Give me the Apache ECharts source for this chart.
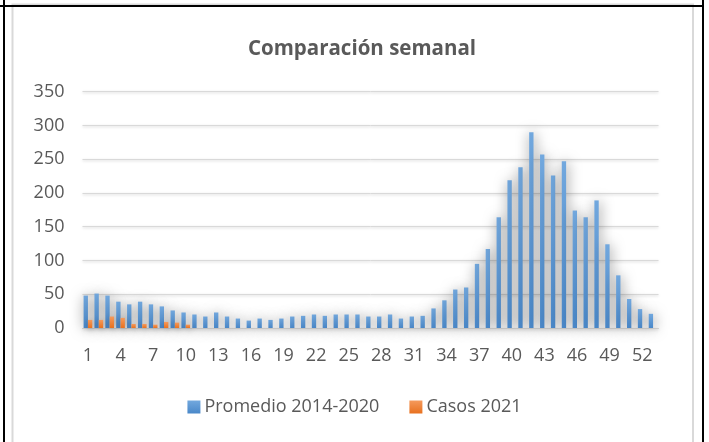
<!DOCTYPE html>
<html>
<head>
<meta charset="utf-8">
<script src="https://cdn.jsdelivr.net/npm/echarts@6/dist/echarts.min.js"></script>
<style>
  html, body { margin: 0; padding: 0; background: #fff; }
  #chart { width: 709px; height: 442px; }
</style>
</head>
<body>
<div id="chart"></div>
<script>
// semanas 1..53
var semanas = [];
for (var s = 1; s <= 53; s++) semanas.push(String(s));

var promedio = [48, 51, 48, 39, 35, 39, 35, 32, 26, 23,
                20, 17, 23, 17, 14, 11, 14, 12, 14, 17,
                18, 20, 18, 20, 20, 20, 17, 17, 20, 14,
                17, 18, 29, 41, 57, 60, 95, 117, 164, 219,
                238, 290, 257, 226, 247, 174, 164, 189, 124, 78,
                43, 28, 21];

var casos2021 = [12, 12, 17, 15, 6, 6, 5, 9, 8, 5];

var yTicks = { min: 0, max: 350, interval: 50 };

var txt = "#595959";
var font = "Open Sans";

var myChart = echarts.init(document.getElementById("chart"));
var option = {
  backgroundColor: "#fff",
  animation: false,
  title: {
    text: "Comparación semanal",
    left: 357,
    textAlign: "center",
    top: 34,
    textStyle: { fontFamily: font, fontSize: 20.5, fontWeight: "bold", color: txt }
  },
  legend: {
    bottom: 21,
    left: "center",
    itemWidth: 13,
    itemHeight: 13,
    itemGap: 30,
    icon: "rect",
    textStyle: { fontFamily: font, fontSize: 18, color: txt, padding: [0, 0, 0, -1] },
    data: ["Promedio 2014-2020", "Casos 2021"]
  },
  grid: {
    left: 82.5,
    right: 50.5,
    top: 91.7,
    bottom: 114
  },
  xAxis: {
    type: "category",
    data: semanas,
    axisTick: { show: false },
    axisLine: { lineStyle: { color: "#d9d9d9", width: 1 } },
    axisLabel: {
      interval: 2,
      margin: 19,
      fontFamily: font,
      fontSize: 18,
      color: txt
    }
  },
  yAxis: {
    type: "value",
    min: yTicks.min,
    max: yTicks.max,
    interval: yTicks.interval,
    axisLine: { show: false },
    axisTick: { show: false },
    axisLabel: { margin: 18, fontFamily: font, fontSize: 18, color: txt },
    splitLine: {
      lineStyle: {
        color: "#d9d9d9",
        width: 1,
        shadowBlur: 3,
        shadowColor: "rgba(0,0,0,0.2)",
        shadowOffsetY: 1
      }
    }
  },
  series: [
    {
      name: "Promedio 2014-2020",
      type: "bar",
      data: promedio,
      barWidth: "40%",
      barGap: "0%",
      itemStyle: {
        color: new echarts.graphic.LinearGradient(0, 0, 0, 1, [
          { offset: 0, color: "#72a8de" },
          { offset: 1, color: "#4a88c9" }
        ]),
        shadowBlur: 13,
        shadowColor: "rgba(0,0,0,0.55)",
        shadowOffsetX: 1,
        shadowOffsetY: 1
      }
    },
    {
      name: "Casos 2021",
      type: "bar",
      data: casos2021,
      barWidth: "40%",
      itemStyle: {
        color: new echarts.graphic.LinearGradient(0, 0, 0, 1, [
          { offset: 0, color: "#f59a5c" },
          { offset: 1, color: "#e8711f" }
        ]),
        shadowBlur: 6,
        shadowColor: "rgba(0,0,0,0.3)",
        shadowOffsetX: 1,
        shadowOffsetY: 1
      }
    }
  ],
  graphic: [
    // marco gris del gráfico
    { type: "rect", shape: { x: 12.5, y: 4.5, width: 680.5, height: 450 },
      style: { fill: null, stroke: "#d9d9d9", lineWidth: 2 }, z: 100 },
    // bordes negros de la tabla
    { type: "line", shape: { x1: 0, y1: 6, x2: 704, y2: 6 },
      style: { stroke: "#000", lineWidth: 2 }, z: 101 },
    { type: "line", shape: { x1: 4, y1: 0, x2: 4, y2: 442 },
      style: { stroke: "#000", lineWidth: 2 }, z: 101 },
    { type: "line", shape: { x1: 703, y1: 0, x2: 703, y2: 442 },
      style: { stroke: "#000", lineWidth: 2 }, z: 101 }
  ]
};
myChart.setOption(option);
</script>
</body>
</html>
